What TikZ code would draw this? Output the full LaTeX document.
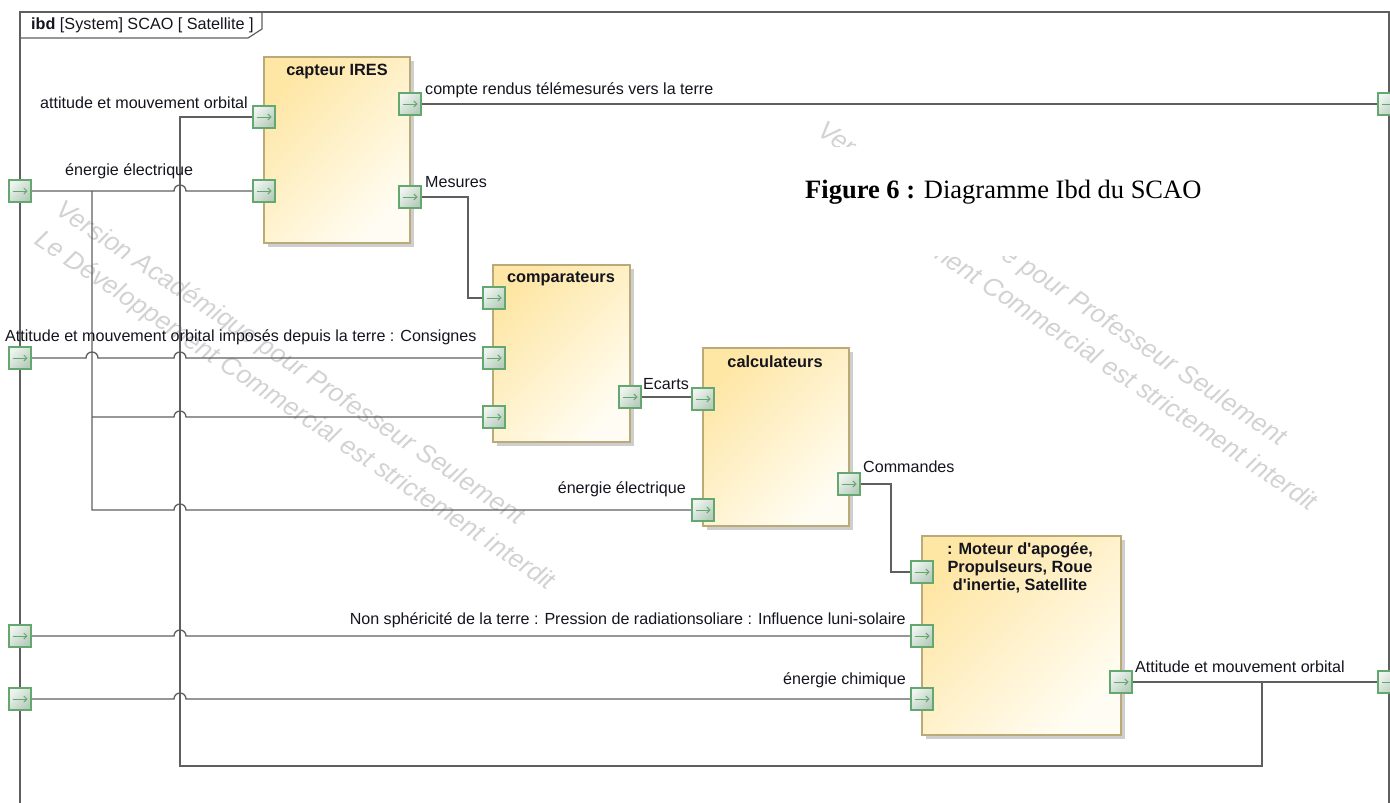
\documentclass[tikz,border=0pt]{standalone}
\usepackage{fontspec}
\setmainfont{Liberation Sans}
\newfontfamily\diag{Liberation Sans}
\newfontfamily\capfont{Liberation Serif}
\usetikzlibrary{arrows.meta,shadows,calc}
\definecolor{wire}{RGB}{95,95,95}
\definecolor{portgreen}{RGB}{100,168,112}
\definecolor{porttop}{RGB}{238,244,239}
\definecolor{portbot}{RGB}{182,204,188}
\definecolor{blkborder}{RGB}{185,170,120}
\definecolor{blktop}{RGB}{254,230,165}
\definecolor{blkbot}{RGB}{255,253,243}
\definecolor{wmgray}{RGB}{210,210,210}
\definecolor{txt}{RGB}{20,20,30}
\pgfdeclarelayer{wm}\pgfdeclarelayer{bg}
\pgfsetlayers{wm,bg,main}
\begin{document}
\begin{tikzpicture}[x=1pt,y=-1pt,
  lbl/.style={font=\diag\fontsize{16.1}{18}\selectfont, text=txt, inner sep=0pt},
  ttl/.style={font=\diag\fontsize{16.3}{17.8}\selectfont\bfseries, text=txt, inner sep=0pt, align=center},
  wirel/.style={draw=wire, line width=1.3pt},
  framel/.style={draw=wire, line width=1.2pt},
  wmtext/.style={font=\diag\itshape\fontsize{25.8}{30}\selectfont, text=wmgray, inner sep=0pt, rotate=-34, anchor=base west},
  blockbox/.style={draw=blkborder, line width=1.2pt, top color=blktop, bottom color=blkbot, shading angle=45,
     drop shadow={shadow xshift=4pt, shadow yshift=-4pt, fill=black!38}, inner sep=0pt},
  portbox/.style={draw=portgreen, line width=1.1pt, minimum size=22pt, inner sep=0pt, top color=porttop, bottom color=portbot, shading angle=45,
     path picture={\draw[portgreen, line width=1pt, -{Straight Barb[length=3pt,width=6pt]}] ([xshift=-7.5pt]path picture bounding box.center) -- ([xshift=7.5pt]path picture bounding box.center);}},
]
\useasboundingbox (0,0) rectangle (1390,803);

% watermark
\begin{pgfonlayer}{wm}
\node[wmtext] (wa1) at (54,213) {Version Académique pour Professeur Seulement};
\node[wmtext] (wa2) at (33,243) {Le Développement Commercial est strictement interdit};
\node[wmtext] (wb1) at (816,134) {Version Académique pour Professeur Seulement};
\node[wmtext] (wb2) at (795,164) {Le Développement Commercial est strictement interdit};
\end{pgfonlayer}

% frame
\draw[framel] (20,803) -- (20,12) -- (1389,12) -- (1389,803);
\draw[framel] (20,38) -- (248,38) -- (262,29) -- (262,12);
\node[lbl, anchor=west, font=\diag\fontsize{16.2}{18}\selectfont] (hdr) at (31,25) {\textbf{ibd} [System] SCAO [ Satellite ]};

% blocks
\node[blockbox, minimum width=146pt, minimum height=186pt] (capteur) at (337,150) {};
\node[blockbox, minimum width=137pt, minimum height=177pt] (comp) at (561.5,353.5) {};
\node[blockbox, minimum width=146pt, minimum height=178pt] (calc) at (776,437) {};
\node[blockbox, minimum width=199pt, minimum height=199pt] (moteur) at (1021.5,635.5) {};
\node[ttl] (tcapteur) at (337,71) {capteur IRES};
\node[ttl] (tcomp) at (561,279) {comparateurs};
\node[ttl] (tcalc) at (775,362) {calculateurs};
\node[ttl] (tmoteur) at (1020,567.5) {: Moteur d'apogée,\\Propulseurs, Roue\\d'inertie, Satellite};

% ports
\node[portbox] (FL1) at (20,191) {};
\node[portbox] (FL2) at (20,358) {};
\node[portbox] (FL3) at (20,636) {};
\node[portbox] (FL4) at (20,699) {};
\node[portbox] (FR1) at (1389,104) {};
\node[portbox] (FR2) at (1389,682) {};
\node[portbox] (CI1) at (264,117) {};
\node[portbox] (CI2) at (264,191) {};
\node[portbox] (CR1) at (410,104) {};
\node[portbox] (CR2) at (410,197) {};
\node[portbox] (CO1) at (494,298) {};
\node[portbox] (CO2) at (494,358) {};
\node[portbox] (CO3) at (494,417) {};
\node[portbox] (COR) at (630,397) {};
\node[portbox] (CA1) at (703,399) {};
\node[portbox] (CA2) at (703,510) {};
\node[portbox] (CAR) at (849,484) {};
\node[portbox] (MO1) at (922,572) {};
\node[portbox] (MO2) at (922,636) {};
\node[portbox] (MO3) at (922,699) {};
\node[portbox] (MR) at (1121,682) {};

% caption mask and wires
\begin{pgfonlayer}{bg}
\fill[white] (780,147) rectangle (1235,256);
\draw[wirel] (FL1.east) -- (174,191) arc[start angle=180,end angle=0,radius=6pt] -- (CI2.west);
\draw[wirel] (92,191) -- (92,510) -- (174,510) arc[start angle=180,end angle=0,radius=6pt] -- (CA2.west);
\draw[wirel] (92,417) -- (174,417) arc[start angle=180,end angle=0,radius=6pt] -- (CO3.west);
\draw[wirel] (FL2.east) -- (86,358) arc[start angle=180,end angle=0,radius=6pt] -- (174,358) arc[start angle=180,end angle=0,radius=6pt] -- (CO2.west);
\draw[wirel] (FL3.east) -- (174,636) arc[start angle=180,end angle=0,radius=6pt] -- (MO2.west);
\draw[wirel] (FL4.east) -- (174,699) arc[start angle=180,end angle=0,radius=6pt] -- (MO3.west);
\draw[wirel] (CI1.west) -- (180,117) -- (180,766) -- (1262,766) -- (1262,682);
\draw[wirel] (MR.east) -- (FR2.west);
\draw[wirel] (CR1.east) -- (FR1.west);
\draw[wirel] (CR2.east) -- (468,197) -- (468,298) -- (CO1.west);
\draw[wirel] (COR.east) -- (COR.east -| CA1.west);
\draw[wirel] (CAR.east) -- (891,484) -- (891,572) -- (MO1.west);
\end{pgfonlayer}
\node[anchor=west, inner sep=0pt, font=\capfont\fontsize{26.5}{30}\selectfont] (cap) at (805,192) {\textbf{Figure 6 :} Diagramme Ibd du SCAO};

% labels
\node[lbl, anchor=east] (l1) at (248,103) {attitude et mouvement orbital};
\node[lbl, anchor=west] (l2) at (65,171) {énergie électrique};
\node[lbl, anchor=west] (l3) at (425,90) {compte rendus télémesurés vers la terre};
\node[lbl, anchor=west] (l4) at (425,182) {Mesures};
\node[lbl, anchor=west] (l5) at (5,337) {Attitude et mouvement orbital imposés depuis la terre : Consignes};
\node[lbl, anchor=west] (l6) at (643,384) {Ecarts};
\node[lbl, anchor=east] (l7) at (686,489) {énergie électrique};
\node[lbl, anchor=west] (l8) at (863,467) {Commandes};
\node[lbl, anchor=east] (l9) at (906,620) {Non sphéricité de la terre : Pression de radiationsoliare : Influence luni-solaire};
\node[lbl, anchor=east] (l10) at (906,680) {énergie chimique};
\node[lbl, anchor=west] (l11) at (1135,667) {Attitude et mouvement orbital};
\end{tikzpicture}
\end{document}
